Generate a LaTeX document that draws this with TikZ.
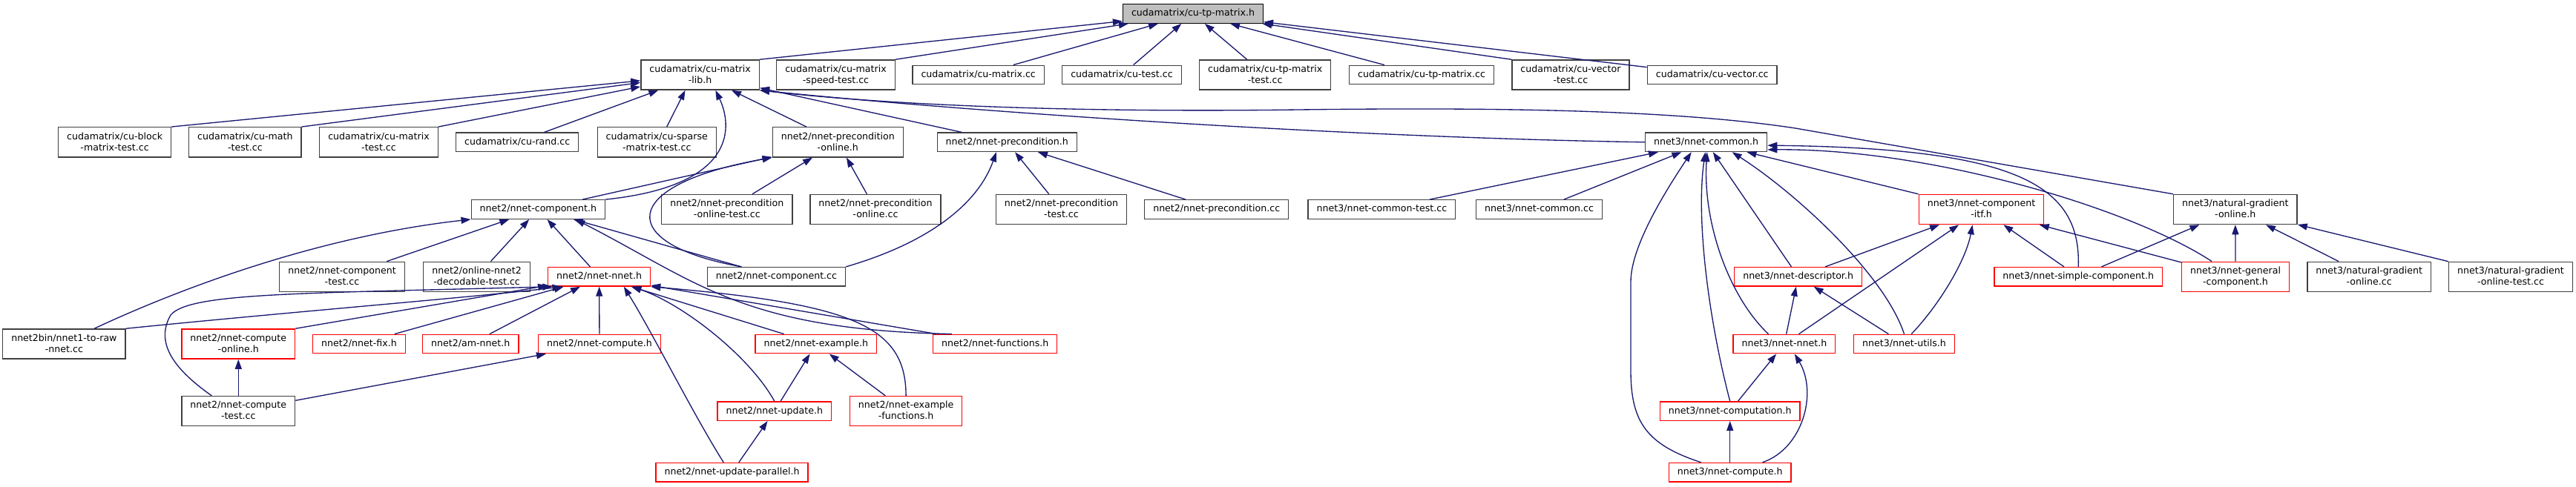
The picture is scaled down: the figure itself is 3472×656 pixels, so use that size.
\documentclass[tikz,border=0pt]{standalone}
\usepackage{fontspec}
\setmainfont{DejaVu Sans}
\usetikzlibrary{arrows.meta}
\definecolor{navy}{RGB}{25,25,112}

\begin{document}
\begin{tikzpicture}[
  x=1pt, y=-1pt,
  font=\fontsize{12.6}{15}\selectfont,
  src/.style ={draw=black!75, fill=white, line width=1.33pt, inner xsep=11.5pt, inner ysep=0pt, text height=9.8pt, text depth=3pt, minimum height=25.5pt},
  src2/.style={src, align=center, text height=24.8pt, text depth=2.2pt, minimum height=40.2pt},
  cut/.style ={draw=red},
  root/.style={src, fill=black!25, draw=black},
  inc/.style ={-{Triangle[length=13pt, width=9pt]}, line width=1.33pt, draw=navy, fill=none},
]
\useasboundingbox (0,0) rectangle (3472,656);

% ---------- root ----------
\node[root] (tp) at (1608,18.5) {cudamatrix/cu-tp-matrix.h};

% ---------- cudamatrix ----------
\node[src2] (lib)       at (943.6,101)  {cudamatrix/cu-matrix\\-lib.h};
\node[src2] (speedtest) at (1126.5,101) {cudamatrix/cu-matrix\\-speed-test.cc};
\node[src]  (matcc)     at (1318.7,101) {cudamatrix/cu-matrix.cc};
\node[src]  (cutest)    at (1512,101)   {cudamatrix/cu-test.cc};
\node[src2] (tptest)    at (1705.2,101) {cudamatrix/cu-tp-matrix\\-test.cc};
\node[src]  (tpcc)      at (1916,101)   {cudamatrix/cu-tp-matrix.cc};
\node[src2] (vectest)   at (2116.9,101) {cudamatrix/cu-vector\\-test.cc};
\node[src]  (veccc)     at (2307.7,101) {cudamatrix/cu-vector.cc};

\node[src2] (block)     at (154.6,191.8) {cudamatrix/cu-block\\-matrix-test.cc};
\node[src2] (mathtest)  at (330.4,191.8) {cudamatrix/cu-math\\-test.cc};
\node[src2] (mattest)   at (510.5,191.8) {cudamatrix/cu-matrix\\-test.cc};
\node[src]  (rand)      at (697.2,191.8) {cudamatrix/cu-rand.cc};
\node[src2] (sparse)    at (885.3,191.8) {cudamatrix/cu-sparse\\-matrix-test.cc};

% ---------- nnet2 ----------
\node[src2] (preconon)     at (1129.3,191.8) {nnet2/nnet-precondition\\-online.h};
\node[src]  (precon)       at (1357.2,191.8) {nnet2/nnet-precondition.h};
\node[src]  (comp)         at (725.4,282.5)  {nnet2/nnet-component.h};
\node[src2] (preconontest) at (979.8,282.5)  {nnet2/nnet-precondition\\-online-test.cc};
\node[src2] (precononcc)   at (1180,282.5)   {nnet2/nnet-precondition\\-online.cc};
\node[src2] (precontest)   at (1430.5,282.5) {nnet2/nnet-precondition\\-test.cc};
\node[src]  (preconcc)     at (1639.7,282.5) {nnet2/nnet-precondition.cc};
\node[src2] (comptest)     at (461,373.3)    {nnet2/nnet-component\\-test.cc};
\node[src2] (onlinedec)    at (642.6,373.3)  {nnet2/online-nnet2\\-decodable-test.cc};
\node[src, cut] (nnet2)    at (807.6,373.3)  {nnet2/nnet-nnet.h};
\node[src]  (compcc)       at (1046.4,373.3) {nnet2/nnet-component.cc};
\node[src2] (toraw)        at (86.4,464)     {nnet2bin/nnet1-to-raw\\-nnet.cc};
\node[src2, cut] (computeon) at (321.3,464)  {nnet2/nnet-compute\\-online.h};
\node[src, cut] (fix)      at (484,464)      {nnet2/nnet-fix.h};
\node[src, cut] (amnnet)   at (634.3,464)    {nnet2/am-nnet.h};
\node[src, cut] (compute2) at (808,464)      {nnet2/nnet-compute.h};
\node[src, cut] (example)  at (1099.8,464)   {nnet2/nnet-example.h};
\node[src, cut] (functions) at (1341.2,464)  {nnet2/nnet-functions.h};
\node[src2] (computetest)  at (321.3,554.6)  {nnet2/nnet-compute\\-test.cc};
\node[src, cut] (update)   at (1043.8,554.6) {nnet2/nnet-update.h};
\node[src2, cut] (exfun)   at (1221.1,554.6) {nnet2/nnet-example\\-functions.h};
\node[src, cut] (updpar)   at (986.5,637.2)  {nnet2/nnet-update-parallel.h};

% ---------- nnet3 ----------
\node[src]  (common)      at (2299.6,191.8) {nnet3/nnet-common.h};
\node[src]  (commontest)  at (1862.4,282.5) {nnet3/nnet-common-test.cc};
\node[src]  (commoncc)    at (2074.6,282.5) {nnet3/nnet-common.cc};
\node[src2, cut] (itf)    at (2670.5,282.5) {nnet3/nnet-component\\-itf.h};
\node[src2] (natgrad)     at (3012.8,282.5) {nnet3/natural-gradient\\-online.h};
\node[src, cut] (desc)    at (2423.6,373.3) {nnet3/nnet-descriptor.h};
\node[src, cut] (simple)  at (2801.2,373.3) {nnet3/nnet-simple-component.h};
\node[src2, cut] (general) at (3013,373.3)  {nnet3/nnet-general\\-component.h};
\node[src2] (natgradcc)   at (3193.2,373.3) {nnet3/natural-gradient\\-online.cc};
\node[src2] (natgradtest) at (3384,373.3)   {nnet3/natural-gradient\\-online-test.cc};
\node[src, cut] (nnet3)   at (2404.9,464)   {nnet3/nnet-nnet.h};
\node[src, cut] (utils)   at (2566.5,464)   {nnet3/nnet-utils.h};
\node[src, cut] (computation) at (2331.7,554.6) {nnet3/nnet-computation.h};
\node[src, cut] (compute3) at (2331.7,637.2) {nnet3/nnet-compute.h};

% ---------- includes of cu-tp-matrix.h ----------
\draw[inc] (lib.north east) -- (tp); \draw[inc] (speedtest.north east) -- (tp); \draw[inc] (matcc) -- (tp); \draw[inc] (cutest) -- (tp);
\draw[inc] (tptest) -- (tp); \draw[inc] (tpcc) -- (tp); \draw[inc] (vectest.north west) -- (tp); \draw[inc] (veccc) -- (tp);

% ---------- includes of cu-matrix-lib.h ----------
\draw[inc] (block.north east) -- (lib); \draw[inc] (mathtest.north east) -- (lib); \draw[inc] (mattest.north east) -- (lib);
\draw[inc] (rand) -- (lib); \draw[inc] (sparse.57) -- (lib.-134);
\draw[inc] (preconon) -- (lib); \draw[inc] (precon) -- (lib);
\draw[inc] (comp.north east) .. controls (1000,250) and (985,165) .. (lib.-45);
\draw[inc] (common.west) .. controls (1800,185) and (1300,150) .. (lib.south east);
\draw[inc] (natgrad.north west) -- (2420,173) .. controls (2250,147) and (2000,145) .. (1750,148)
  .. controls (1450,152) and (1200,142) .. (lib.south east);

% ---------- nnet2 precondition ----------
\draw[inc] (comp) -- (preconon); \draw[inc] (preconontest) -- (preconon); \draw[inc] (precononcc) -- (preconon);
\draw[inc] (compcc.164) .. controls (830,330) and (830,250) .. (preconon.south west);
\draw[inc] (precontest) -- (precon); \draw[inc] (preconcc) -- (precon);
\draw[inc] (compcc.north east) .. controls (1260,325) and (1320,270) .. (precon.-137);

% ---------- nnet2 component / nnet ----------
\draw[inc] (comptest) -- (comp); \draw[inc] (onlinedec) -- (comp); \draw[inc] (nnet2) -- (comp); \draw[inc] (compcc) -- (comp);
\draw[inc] (toraw.27) .. controls (230,395) and (420,320) .. (comp.south west);
\draw[inc] (functions.167) .. controls (1000,445) and (940,380) .. (comp.-15);

\draw[inc] (computeon.north east) -- (nnet2); \draw[inc] (fix) -- (nnet2); \draw[inc] (amnnet) -- (nnet2);
\draw[inc] (compute2) -- (nnet2); \draw[inc] (example) -- (nnet2); \draw[inc] (functions) -- (nnet2);
\draw[inc] (toraw.north east) .. controls (400,420) and (650,400) .. (nnet2.-165);
\draw[inc] (computetest.150) .. controls (230,495) and (210,460) .. (230,425)
  .. controls (255,395) and (400,396) .. (nnet2.-168);
\draw[inc] (updpar.130) .. controls (935,560) and (880,450) .. (nnet2.-22);
\draw[inc] (update.north) .. controls (1010,480) and (920,410) .. (nnet2.-17);
\draw[inc] (exfun.north) .. controls (1221,440) and (1150,410) .. (nnet2.south east);

\draw[inc] (computetest) -- (computeon); \draw[inc] (computetest) -- (compute2);
\draw[inc] (update) -- (example); \draw[inc] (exfun) -- (example); \draw[inc] (updpar) -- (update);

% ---------- nnet3 common ----------
\draw[inc] (commontest) -- (common); \draw[inc] (commoncc) -- (common); \draw[inc] (desc) -- (common); \draw[inc] (itf) -- (common);
\draw[inc] (compute3.161) .. controls (2220,600) and (2198,570) .. (2198,500) -- (2198,380)
  .. controls (2198,330) and (2250,250) .. (common.-146);
\draw[inc] (computation.north) .. controls (2305,440) and (2285,300) .. (common.-95);
\draw[inc] (nnet3.148) .. controls (2330,400) and (2295,300) .. (common.-85);
\draw[inc] (utils.north) .. controls (2540,370) and (2420,260) .. (common.-21);
\draw[inc] (simple.north) .. controls (2805,250) and (2720,200) .. (common.-3);
\draw[inc] (general.147) .. controls (2870,280) and (2600,200) .. (common.-7);

% ---------- nnet3 component-itf / natural-gradient ----------
\draw[inc] (desc) -- (itf); \draw[inc] (nnet3) -- (itf); \draw[inc] (simple) -- (itf); \draw[inc] (general) -- (itf);
\draw[inc] (utils.54) .. controls (2615,410) and (2650,350) .. (itf.-120);
\draw[inc] (simple) -- (natgrad); \draw[inc] (general) -- (natgrad); \draw[inc] (natgradcc) -- (natgrad); \draw[inc] (natgradtest) -- (natgrad);

% ---------- nnet3 nnet / computation ----------
\draw[inc] (nnet3) -- (desc); \draw[inc] (utils) -- (desc);
\draw[inc] (computation) -- (nnet3);
\draw[inc] (compute3.17) .. controls (2430,605) and (2450,530) .. (nnet3.-44);
\draw[inc] (compute3) -- (computation);

\end{tikzpicture}
\end{document}
